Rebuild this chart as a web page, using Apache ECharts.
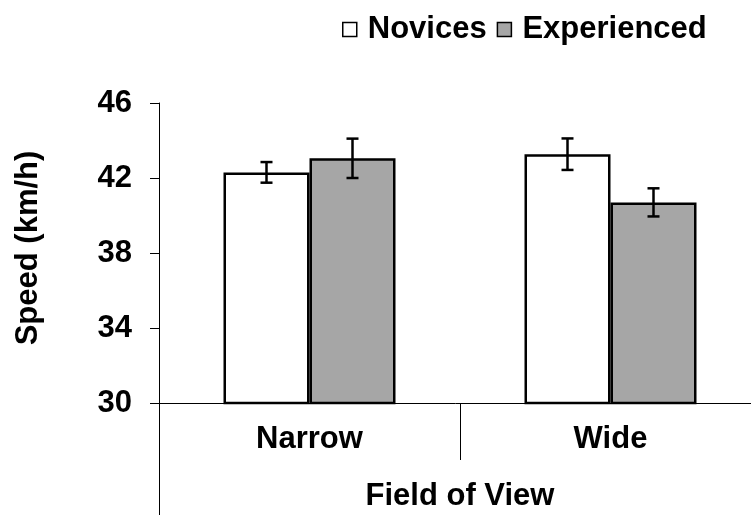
<!DOCTYPE html>
<html>
<head>
<meta charset="utf-8">
<script src="https://cdn.jsdelivr.net/npm/echarts@6/dist/echarts.min.js"></script>
<style>html,body{margin:0;padding:0;background:#fff;}#c{width:751px;height:515px;}</style>
</head>
<body>
<div id="c"></div>
<script>
const categories = ['Narrow', 'Wide'];
const noviceValues = [42.3, 43.27];
const noviceErrors = [0.55, 0.84];
const experiencedValues = [43.05, 40.7];
const experiencedErrors = [1.05, 0.75];
const yTicks = [30, 34, 38, 42, 46];

const FONT = "'Liberation Sans', Arial, sans-serif";
const FS = 31;
const BAR_W = 86;

function errData(vals, errs) {
  return vals.map((v, i) => [i, v, errs[i]]);
}
function errRender(offsetSign) {
  return function (params, api) {
    const ci = api.value(0), v = api.value(1), e = api.value(2);
    const top = api.coord([ci, v + e]);
    const bot = api.coord([ci, v - e]);
    const x = top[0] + offsetSign * BAR_W / 2;
    const cap = 6;
    const style = { stroke: '#000', lineWidth: 2.5 };
    return {
      type: 'group',
      children: [
        { type: 'line', shape: { x1: x, y1: top[1], x2: x, y2: bot[1] }, style },
        { type: 'line', shape: { x1: x - cap, y1: top[1], x2: x + cap, y2: top[1] }, style },
        { type: 'line', shape: { x1: x - cap, y1: bot[1], x2: x + cap, y2: bot[1] }, style }
      ]
    };
  };
}

const chart = echarts.init(document.getElementById('c'), null, { renderer: 'canvas' });
const option = {
  animation: false,
  backgroundColor: '#fff',
  textStyle: { fontFamily: FONT },
  legend: {
    data: ['Novices', 'Experienced'],
    left: 337, top: 9,
    itemWidth: 14, itemHeight: 14, itemGap: 10,
    icon: 'rect',
    itemStyle: { borderColor: '#000', borderWidth: 1.5 },
    textStyle: { fontFamily: FONT, fontWeight: 'bold', fontSize: FS, color: '#000', padding: [0, 0, 0, 6] }
  },
  grid: { left: 159, top: 103, bottom: 112, right: -10, containLabel: false, outerBoundsMode: 'none' },
  xAxis: {
    type: 'category',
    data: categories,
    axisLine: { show: true, lineStyle: { color: '#000', width: 1 } },
    axisTick: { show: true, length: 57, lineStyle: { color: '#000', width: 1 } },
    axisLabel: { fontFamily: FONT, fontWeight: 'bold', fontSize: FS, color: '#000', margin: 21 },
    name: 'Field of View',
    nameLocation: 'middle',
    nameGap: 78,
    nameTextStyle: { fontFamily: FONT, fontWeight: 'bold', fontSize: FS, color: '#000' }
  },
  yAxis: {
    type: 'value',
    min: yTicks[0], max: yTicks[yTicks.length - 1], interval: yTicks[1] - yTicks[0],
    axisLine: { show: true, lineStyle: { color: '#000', width: 1 } },
    axisTick: { show: true, length: 9, lineStyle: { color: '#000', width: 1 } },
    splitLine: { show: false },
    axisLabel: { fontFamily: FONT, fontWeight: 'bold', fontSize: FS, color: '#000', margin: 27 },
    name: 'Speed (km/h)',
    nameLocation: 'middle',
    nameRotate: 90,
    nameGap: 115,
    nameTextStyle: { fontFamily: FONT, fontWeight: 'bold', fontSize: FS, color: '#000', padding: [0, 0, 0, 10] }
  },
  series: [
    {
      name: 'Novices', type: 'bar', data: noviceValues, barWidth: BAR_W, barGap: '0%',
      itemStyle: { color: '#ffffff', borderColor: '#000', borderWidth: 2.5 }
    },
    {
      name: 'Experienced', type: 'bar', data: experiencedValues, barWidth: BAR_W, barGap: '0%',
      itemStyle: { color: '#a6a6a6', borderColor: '#000', borderWidth: 2.5 }
    },
    { type: 'custom', renderItem: errRender(-1), data: errData(noviceValues, noviceErrors), encode: { x: 0, y: 1 }, z: 5 },
    { type: 'custom', renderItem: errRender(1), data: errData(experiencedValues, experiencedErrors), encode: { x: 0, y: 1 }, z: 5 }
  ]
};
chart.setOption(option);
const origin = chart.convertToPixel({ gridIndex: 0 }, [0, yTicks[0]]);
const axisX = 159;
chart.setOption({
  graphic: [{
    type: 'line', silent: true,
    shape: { x1: axisX + 0.5, y1: origin[1], x2: axisX + 0.5, y2: 515 },
    style: { stroke: '#000', lineWidth: 1 }
  }]
});
</script>
</body>
</html>
